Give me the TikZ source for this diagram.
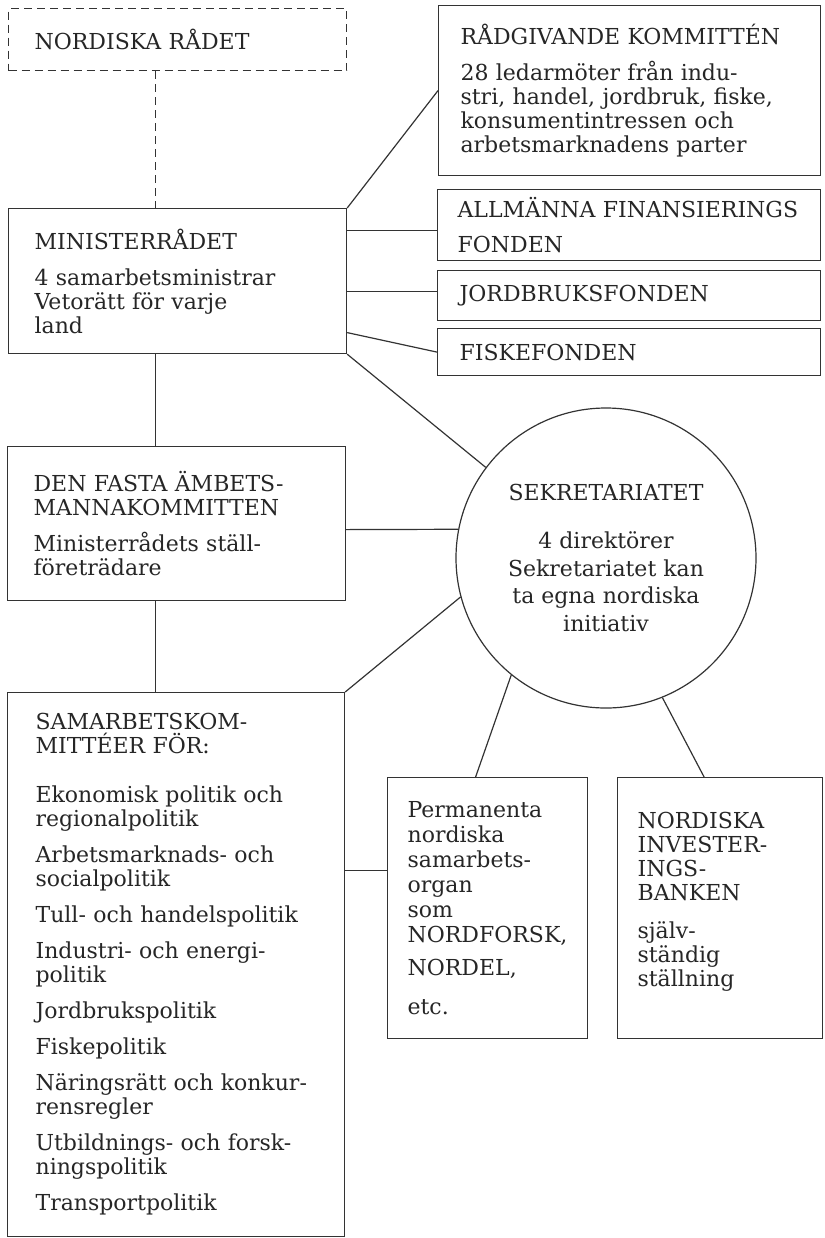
\documentclass[tikz,border=0pt]{standalone}
\usepackage{fontspec}
\setmainfont{DejaVu Serif}

\begin{document}
\begin{tikzpicture}[x=0.5pt, y=-0.5pt,
  box/.style={draw=black!80, line width=0.6pt, rectangle, anchor=north west, align=left, inner xsep=13pt, inner ysep=2pt, text=black!85, font=\fontsize{11}{12}\selectfont},
  link/.style={draw=black!80, line width=0.6pt},
  dashbox/.style={dash pattern=on 4pt off 2.5pt}]
\useasboundingbox (0,0) rectangle (825,1238);

\node[box, dashbox, text width=143pt, minimum height=31pt] (radet) at (8,8) {NORDISKA RÅDET};
\node[box, text width=143pt, minimum height=72.5pt] (mini) at (8,208) {MINISTERRÅDET\\[6pt]4 samarbetsministrar\\Vetorätt för varje\\land};

\node[box, inner xsep=11pt, text width=169pt, minimum height=85pt] (rad) at (438,5) {RÅDGIVANDE KOMMITTÉN\\[6pt]28 ledarmöter från indu-\\stri, handel, jordbruk, fiske,\\konsumentintressen och\\arbetsmarknadens parter};
\node[box, inner xsep=10pt, text width=171.5pt, minimum height=35.5pt] (allm) at (437,189) {ALLMÄNNA FINANSIERINGS\\[5.5pt]FONDEN};
\node[box, inner xsep=11pt, text width=169.5pt, minimum height=25pt] (jord) at (437,270) {JORDBRUKSFONDEN};
\node[box, inner xsep=11pt, text width=169.5pt, minimum height=23.5pt] (fisk) at (437,328) {FISKEFONDEN};

\node[box, text width=143pt, minimum height=77pt] (fasta) at (7,446) {DEN FASTA ÄMBETS-\\MANNAKOMMITTEN\\[6pt]Ministerrådets ställ-\\företrädare};

\node[draw=black!80, line width=0.6pt, circle, minimum size=150pt, inner sep=0pt, align=center, text=black!85, font=\fontsize{11}{12}\selectfont] (sek) at (606,558) {SEKRETARIATET\\[12pt]4 direktörer\\[1.75pt]Sekretariatet kan\\[1.75pt]ta egna nordiska\\[1.75pt]initiativ};

\node[box, inner xsep=14pt, text width=140.5pt, minimum height=272pt] (sam) at (7,692) {SAMARBETSKOM-\\MITTÉER FÖR:\\[12.5pt]Ekonomisk politik och\\regionalpolitik\\[6pt]Arbetsmarknads- och\\socialpolitik\\[6pt]Tull- och handelspolitik\\[6pt]Industri- och energi-\\politik\\[6pt]Jordbrukspolitik\\[6pt]Fiskepolitik\\[6pt]Näringsrätt och konkur-\\rensregler\\[6pt]Utbildnings- och forsk-\\ningspolitik\\[6pt]Transportpolitik};

\node[box, inner xsep=10pt, text width=80pt, minimum height=130.5pt] (perm) at (387,777) {Permanenta\\[0.5pt]nordiska\\[0.5pt]samarbets-\\[0.5pt]organ\\[0.5pt]som\\[0.5pt]NORDFORSK,\\[4.5pt]NORDEL,\\[7.5pt]etc.};
\node[box, inner xsep=10pt, text width=82.5pt, minimum height=130.5pt] (inv) at (617,777) {NORDISKA\\INVESTER-\\INGS-\\BANKEN\\[7pt]själv-\\ständig\\ställning\\[-3.5pt]\mbox{}};

\draw[link, dashbox] ([xshift=-11pt]radet.south) -- ([xshift=-11pt]mini.north);
\draw[link] ([xshift=-11pt]mini.south) -- ([xshift=-10.5pt]fasta.north);
\draw[link] ([xshift=-10.5pt]fasta.south) -- ([xshift=-10.25pt]sam.north);

\draw[link] (mini.north east) -- (rad.west);
\draw[link] ([yshift=-2.75pt]allm.west) -- ([yshift=-2.75pt]allm.west -| mini.east);
\draw[link] ([yshift=2pt]jord.west) -- ([yshift=2pt]jord.west -| mini.east);
\draw[link] ([yshift=-25.75pt]mini.east) -- (fisk.west);

\draw[link] (mini.south east) -- (sek.143);
\draw[link] ([yshift=-3pt]fasta.east) -- (sek.169);
\draw[link] (sek.195) -- (sam.north east);
\draw[link] ([yshift=18.75pt]perm.west) -- ([yshift=18.75pt]perm.west -| sam.east);
\draw[link] (sek.231) -- ([xshift=-6pt]perm.north);
\draw[link] (sek.292) -- ([xshift=-8pt]inv.north);
\end{tikzpicture}
\end{document}
